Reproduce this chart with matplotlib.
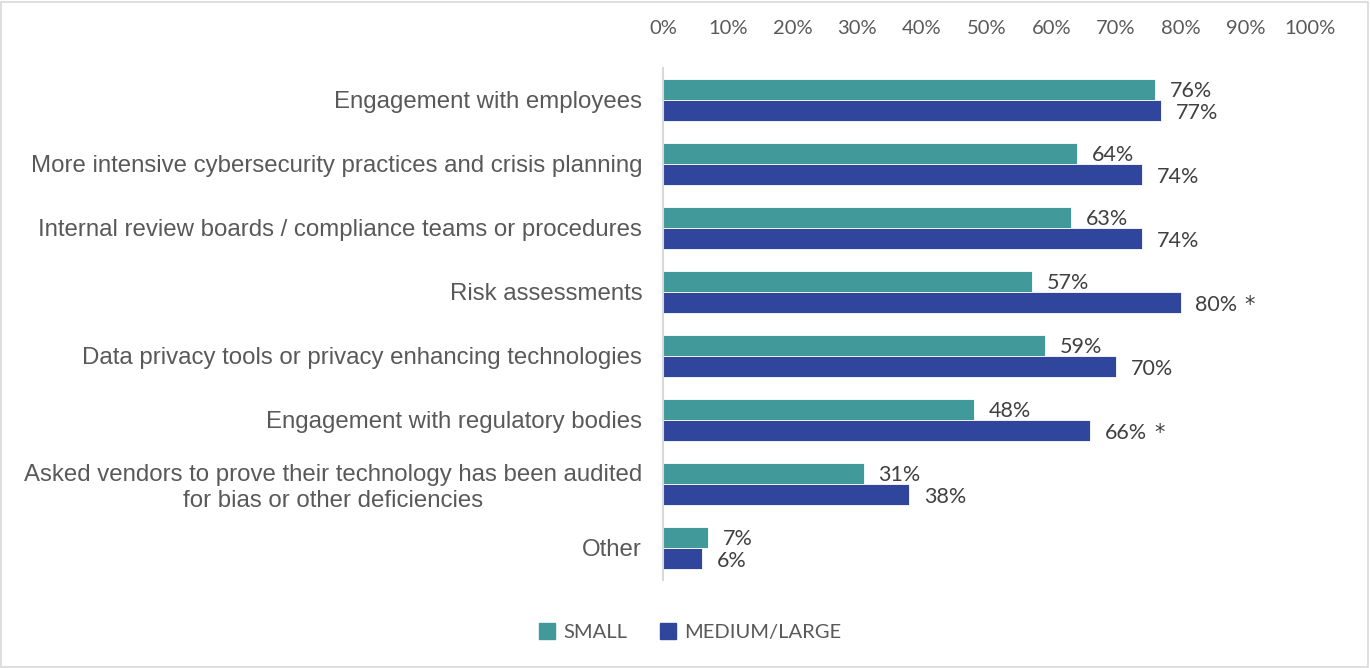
import matplotlib.pyplot as plt
import matplotlib.patches as mpatches
import numpy as np

# survey results, share of respondents
categories = [
    "Engagement with employees",
    "More intensive cybersecurity practices and crisis planning",
    "Internal review boards / compliance teams or procedures",
    "Risk assessments",
    "Data privacy tools or privacy enhancing technologies",
    "Engagement with regulatory bodies",
    "Asked vendors to prove their technology has been audited\nfor bias or other deficiencies",
    "Other",
]
small = [76, 64, 63, 57, 59, 48, 31, 7]
medium_large = [77, 74, 74, 80, 70, 66, 38, 6]
significant = [False, False, False, True, False, True, False, False]
ticks = list(range(0, 101, 10))

teal = "#41999a"
navy = "#2f469c"
grey_text = "#595959"
label_font = ["Lato", "DejaVu Sans"]
cat_font = ["Liberation Sans", "DejaVu Sans"]

fig = plt.figure(figsize=(13.7, 6.68), dpi=100)
W, H = 1370, 668
ax = fig.add_axes([663 / W, 1 - 580 / H, (1310 - 663) / W, (580 - 68) / H])

y = np.arange(len(categories))
h = 0.335
ax.barh(y - h / 2, small, height=h, color=teal, edgecolor="white", linewidth=0.6)
ax.barh(y + h / 2, medium_large, height=h, color=navy, edgecolor="white", linewidth=0.6)

gap = 2.3
for i in range(len(categories)):
    ax.text(small[i] + gap, y[i] - h / 2 + 0.02, f"{small[i]}%", va="center", ha="left",
            fontsize=15.5, color="#404040", family=label_font)
    t = ax.text(medium_large[i] + gap, y[i] + h / 2 + 0.04, f"{medium_large[i]}%",
                va="center", ha="left", fontsize=15.5, color="#404040", family=label_font)
    if significant[i]:
        # significance marker, a bit larger than the Lato asterisk
        ax.annotate("*", xy=(1, 0.5), xycoords=t, xytext=(5, 0), textcoords="offset points",
                    va="center", ha="left", fontsize=15, color="#404040",
                    family=["DejaVu Sans"])

ax.set_xlim(0, 100)
ax.set_ylim(len(categories) - 0.5, -0.5)
ax.set_yticks(y)
ax.set_yticklabels(categories, fontsize=17.3, color=grey_text, family=cat_font)
for lbl in ax.get_yticklabels():
    lbl.set_multialignment("center")
ax.tick_params(axis="y", length=0, pad=15)

ax.xaxis.tick_top()
ax.set_xticks(ticks)
ax.set_xticklabels([f"{t}%" for t in ticks], fontsize=14.5, color=grey_text, family=label_font)
ax.tick_params(axis="x", length=0, pad=22)

for s in ["top", "right", "bottom"]:
    ax.spines[s].set_visible(False)
ax.spines["left"].set_color("#d9d9d9")
ax.spines["left"].set_linewidth(1.5)

handles = [mpatches.Patch(color=teal, label="SMALL"),
           mpatches.Patch(color=navy, label="MEDIUM/LARGE")]
fig.legend(handles=handles, loc="center", bbox_to_anchor=(690 / W, 1 - 632 / H), ncol=2,
           frameon=False, handlelength=0.8, handleheight=0.8, handletextpad=0.4,
           columnspacing=1.6, prop={"family": label_font, "size": 14.5},
           labelcolor=grey_text)

fig.patches.append(mpatches.Rectangle((1 / W, 1 / H), 1 - 3 / W, 1 - 3 / H,
                                      transform=fig.transFigure, fill=False,
                                      edgecolor="#d9d9d9", linewidth=1.2))

fig.savefig("out.png", dpi=100)
